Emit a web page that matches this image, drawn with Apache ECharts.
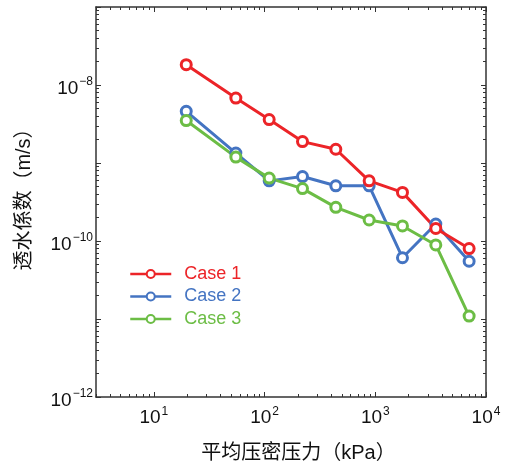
<!DOCTYPE html>
<html>
<head>
<meta charset="utf-8">
<script src="https://cdn.jsdelivr.net/npm/echarts@6/dist/echarts.min.js"></script>
<style>
  html, body { margin: 0; padding: 0; background: #fff; }
  #chart { width: 507px; height: 463px; }
</style>
</head>
<body>
<div id="chart"></div>
<script>
// Mean consolidation pressure (kPa)
const pressure = [19.6, 55, 110, 220, 440, 880, 1760, 3520, 7040];

// Permeability coefficient (m/s) for each case
const case1 = [1.82e-8, 6.8e-9, 3.6e-9, 1.88e-9, 1.5e-9, 5.9e-10, 4.2e-10, 1.45e-10, 8.0e-11];
const case2 = [4.6e-9, 1.34e-9, 5.9e-10, 6.7e-10, 5.1e-10, 5.1e-10, 6.1e-11, 1.65e-10, 5.5e-11];
const case3 = [3.5e-9, 1.19e-9, 6.4e-10, 4.7e-10, 2.7e-10, 1.86e-10, 1.56e-10, 8.9e-11, 1.09e-11];

const seriesNames = ['Case 1', 'Case 2', 'Case 3'];

// Axis ticks and labels
const xMajorTicks = [10, 100, 1000, 10000];
const xMinorTicks = [3, 4, 5, 6, 7, 8, 9,
  20, 30, 40, 50, 60, 70, 80, 90,
  200, 300, 400, 500, 600, 700, 800, 900,
  2000, 3000, 4000, 5000, 6000, 7000, 8000, 9000];
const yMajorTicks = [1e-12, 1e-11, 1e-10, 1e-9, 1e-8, 1e-7];
const yLabelTicks = [1e-12, 1e-10, 1e-8];
const yMinorTicks = [
  2e-12, 3e-12, 4e-12, 5e-12, 6e-12, 7e-12, 8e-12, 9e-12,
  2e-11, 3e-11, 4e-11, 5e-11, 6e-11, 7e-11, 8e-11, 9e-11,
  2e-10, 3e-10, 4e-10, 5e-10, 6e-10, 7e-10, 8e-10, 9e-10,
  2e-9, 3e-9, 4e-9, 5e-9, 6e-9, 7e-9, 8e-9, 9e-9,
  2e-8, 3e-8, 4e-8, 5e-8, 6e-8, 7e-8, 8e-8, 9e-8];

const colors = { 'Case 1': '#ec2428', 'Case 2': '#4474c2', 'Case 3': '#6cbd45' };
const dataByName = { 'Case 1': case1, 'Case 2': case2, 'Case 3': case3 };

const FONT = '"Liberation Sans", Arial, "Noto Sans CJK SC", sans-serif';
const FRAME = '#333';

function powLabel(v) {
  const e = Math.round(Math.log10(v));
  const s = e < 0 ? '\u2212' + (-e) : String(e);
  return '{b|10}{s|' + s + '}';
}
// "10" with a raised exponent
const labelRich = {
  b: { fontSize: 19, lineHeight: 22, verticalAlign: 'bottom', color: '#111', fontFamily: FONT },
  s: { fontSize: 12, lineHeight: 12, verticalAlign: 'top', padding: [0, 0, 0, 1], color: '#111', fontFamily: FONT }
};

function xAxisDef(position, major, withLabels) {
  return {
    type: 'log', position: position, min: 3, max: 10000,
    axisLine: { show: major, lineStyle: { color: FRAME, width: 1.5 } },
    axisTick: {
      show: true, inside: true, length: major ? 5 : 3,
      customValues: major ? xMajorTicks : xMinorTicks,
      lineStyle: { color: FRAME, width: 1 }
    },
    axisLabel: withLabels ? {
      show: true, customValues: xMajorTicks, margin: 4.5, padding: [4, 0, 0, 0],
      formatter: powLabel, rich: labelRich
    } : { show: false },
    splitLine: { show: false },
    minorTick: { show: false },
    name: withLabels ? '平均压密压力（kPa）' : '',
    nameLocation: 'middle', nameGap: 46,
    nameTextStyle: { fontSize: 20, color: '#111', fontFamily: FONT, padding: [0, 0, 0, 15] }
  };
}

function yAxisDef(position, major, withLabels) {
  return {
    type: 'log', position: position, min: 1e-12, max: 1e-7,
    axisLine: { show: major, lineStyle: { color: FRAME, width: 1.5 } },
    axisTick: {
      show: true, inside: true, length: major ? 5 : 3,
      customValues: major ? yMajorTicks : yMinorTicks,
      lineStyle: { color: FRAME, width: 1 }
    },
    axisLabel: withLabels ? {
      show: true, customValues: yLabelTicks, margin: 3, padding: [4, 0, 0, 0],
      formatter: powLabel, rich: labelRich
    } : { show: false },
    splitLine: { show: false },
    minorTick: { show: false },
    name: withLabels ? '透水係数（m/s）' : '',
    nameLocation: 'middle', nameGap: 62,
    nameTextStyle: { fontSize: 20, color: '#111', fontFamily: FONT, padding: [0, 0, 0, 15] }
  };
}

function makeSeries(name) {
  const c = colors[name];
  return {
    name: name, type: 'line',
    xAxisIndex: 0, yAxisIndex: 0,
    data: pressure.map((p, i) => [p, dataByName[name][i]]),
    symbol: 'circle', symbolSize: 10,
    itemStyle: { color: '#fff', borderColor: c, borderWidth: 3 },
    lineStyle: { color: c, width: 3 },
    emphasis: { disabled: true }
  };
}

const chart = echarts.init(document.getElementById('chart'), null, { renderer: 'canvas' });
chart.setOption({
  animation: false,
  backgroundColor: '#fff',
  grid: { left: 96, right: 21, top: 7, bottom: 66, containLabel: false, outerBoundsMode: 'none' },
  xAxis: [
    xAxisDef('bottom', true, true),
    xAxisDef('bottom', false, false),
    xAxisDef('top', true, false),
    xAxisDef('top', false, false)
  ],
  yAxis: [
    yAxisDef('left', true, true),
    yAxisDef('left', false, false),
    yAxisDef('right', true, false),
    yAxisDef('right', false, false)
  ],
  legend: {
    orient: 'vertical', left: 129, top: 265, padding: 0,
    itemWidth: 41, itemHeight: 10, itemGap: 4.5,
    selectedMode: false,
    lineStyle: { width: 2.5 },
    itemStyle: { borderWidth: 2 },
    textStyle: { fontSize: 18, fontFamily: FONT, padding: [0, 0, 0, 8] },
    data: seriesNames.map(n => ({ name: n, textStyle: { color: colors[n] } }))
  },
  // Case 2 drawn first, Case 1 last so its markers sit on top
  series: ['Case 2', 'Case 3', 'Case 1'].map(makeSeries)
});
</script>
</body>
</html>
